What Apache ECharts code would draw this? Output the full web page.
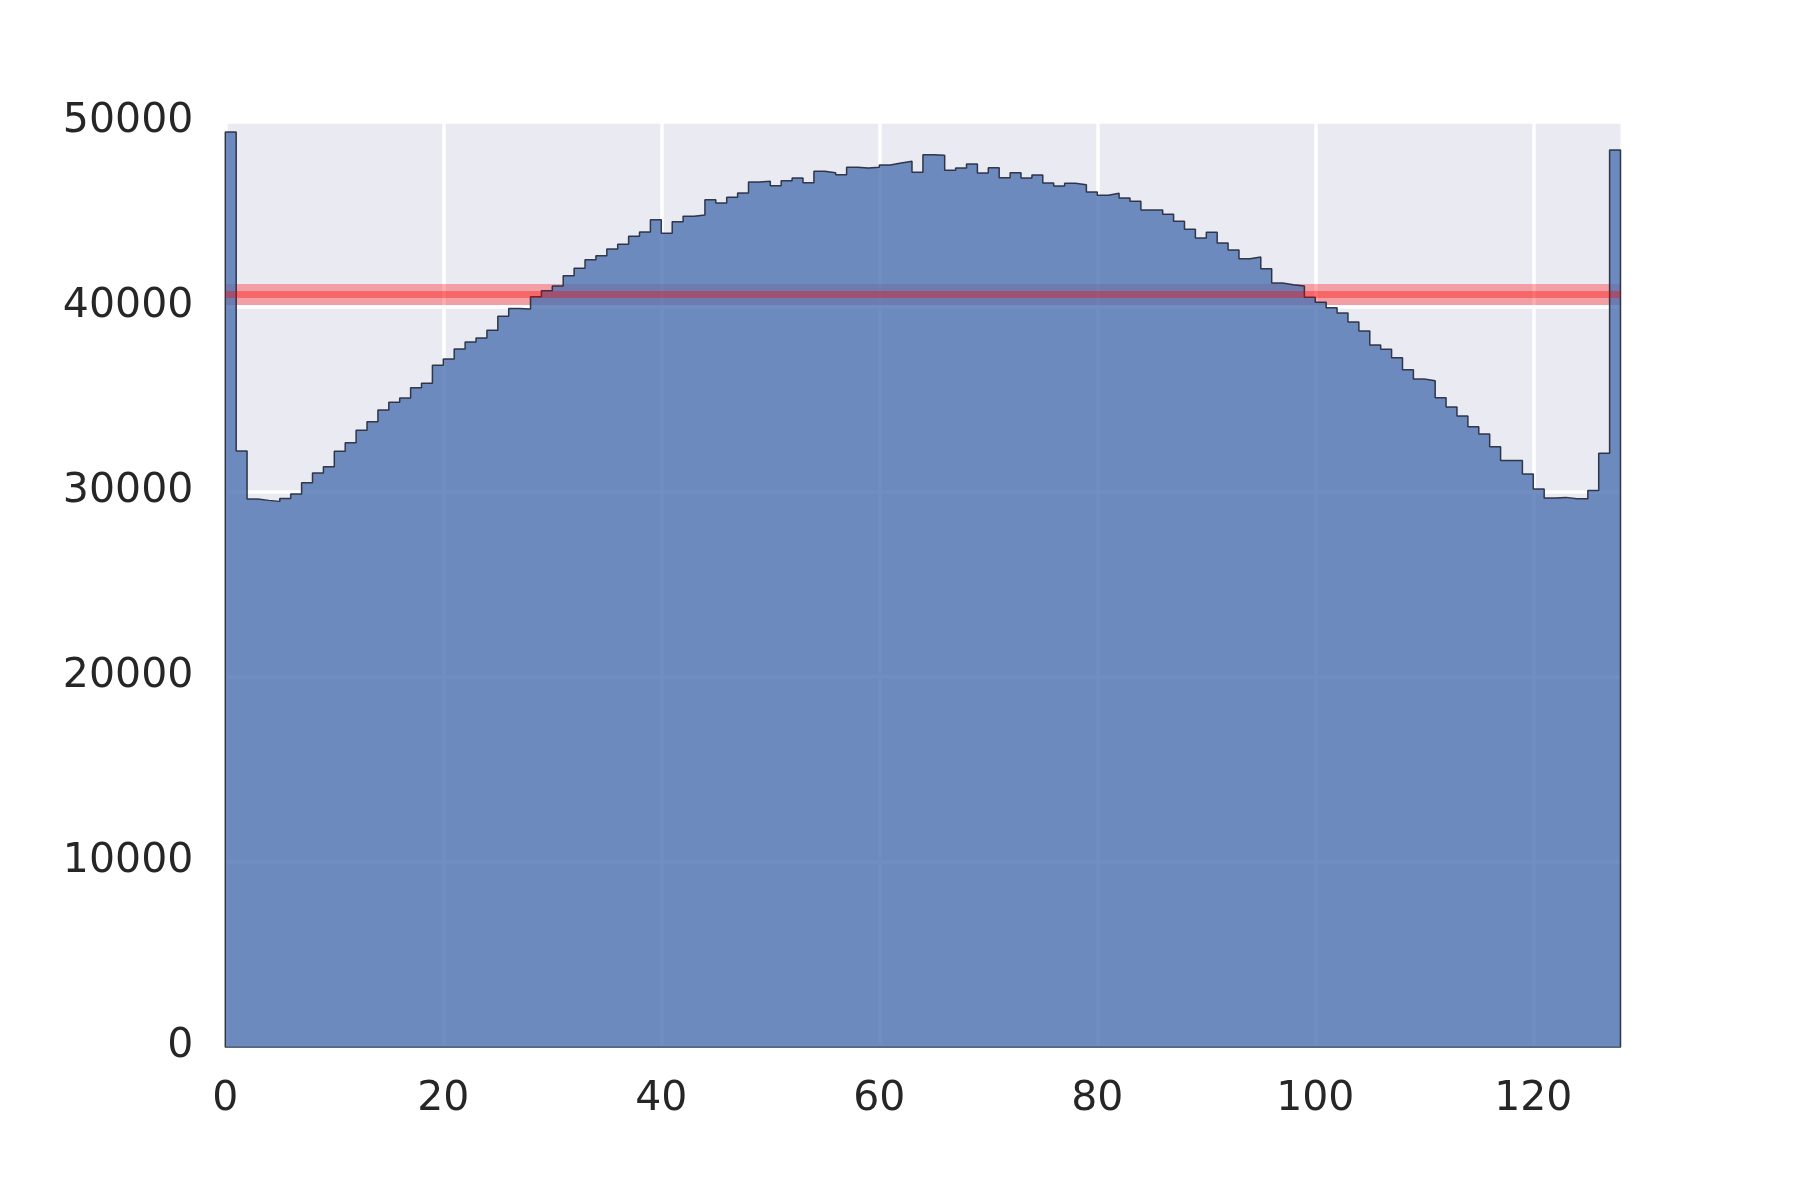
<!DOCTYPE html>
<html>
<head>
<meta charset="utf-8">
<script src="https://cdn.jsdelivr.net/npm/echarts@6/dist/echarts.min.js"></script>
<style>
html,body{margin:0;padding:0;background:#ffffff;}
#chart{width:1800px;height:1200px;}
</style>
</head>
<body>
<div id="chart"></div>
<script>
// Histogram counts, one per unit bin [i, i+1), i = 0..127
const counts = [49443, 32198, 29603, 29531, 29477, 29639, 29873, 30486, 31009, 31351,
  32180, 32648, 33315, 33784, 34415, 34829, 35063, 35622, 35856, 36829,
  37172, 37712, 38090, 38306, 38721, 39478, 39900, 39880, 40541, 40866,
  41118, 41676, 42073, 42541, 42758, 43118, 43370, 43803, 44037, 44704,
  43965, 44596, 44884, 44956, 45785, 45605, 45911, 46145, 46740, 46776,
  46542, 46812, 46956, 46704, 47317, 47245, 47136, 47533, 47497, 47533,
  47659, 47767, 47857, 47263, 48218, 48182, 47371, 47497, 47713, 47227,
  47515, 46974, 47245, 46956, 47118, 46686, 46524, 46668, 46596, 46200,
  46019, 46127, 45875, 45700, 45226, 45226, 44992, 44614, 44181, 43713,
  44019, 43442, 43064, 42595, 42686, 42055, 41280, 41190, 41118, 40505,
  40235, 39946, 39658, 39172, 38685, 37928, 37694, 37243, 36595, 36090,
  36000, 35081, 34577, 34090, 33513, 33117, 32432, 31693, 31693, 30955,
  30144, 29657, 29693, 29621, 29621, 30071, 32072, 48470];
const binStart = 0;
const binEnd = 128;
const meanValue = 40660;
const xTicks = [0, 20, 40, 60, 80, 100, 120];
const yTicks = [0, 10000, 20000, 30000, 40000, 50000];

// step outline (closed at both ends to baseline)
const stepData = [[binStart, 0]];
counts.forEach((v, i) => stepData.push([binStart + i, v]));
stepData.push([binEnd, counts[counts.length - 1]]);
stepData.push([binEnd, 0]);

const chart = echarts.init(document.getElementById('chart'), null, {renderer: 'canvas'});
const labelFont = {fontFamily: 'DejaVu Sans', fontSize: 41, color: '#262626'};
chart.setOption({
  animation: false,
  backgroundColor: '#ffffff',
  grid: {
    left: 225.3, right: 179.5, top: 121.7, bottom: 153.3,
    show: true, backgroundColor: '#EAEAF2', borderWidth: 0
  },
  xAxis: {
    type: 'value', min: binStart, max: binEnd, interval: 20,
    axisLine: {show: true, lineStyle: {color: '#2f3440', width: 1.5}},
    axisTick: {show: false},
    axisLabel: Object.assign({margin: 32, showMaxLabel: false,
      formatter: v => xTicks.includes(v) ? String(v) : ''}, labelFont),
    splitLine: {show: true, showMaxLine: false, lineStyle: {color: '#ffffff', width: 3.5}}
  },
  yAxis: {
    type: 'value', min: 0, max: 50000, interval: 10000,
    axisLine: {show: false},
    axisTick: {show: false},
    axisLabel: Object.assign({margin: 32,
      formatter: v => yTicks.includes(v) ? String(v) : ''}, labelFont),
    splitLine: {show: true, lineStyle: {color: '#ffffff', width: 3.5}}
  },
  series: [
    {
      type: 'line', z: 1, silent: true, symbol: 'none',
      data: [[binStart, meanValue], [binEnd, meanValue]],
      lineStyle: {color: 'rgba(255,0,0,0.32)', width: 21, cap: 'butt'}
    },
    {
      type: 'line', z: 2, silent: true, symbol: 'none', step: 'end',
      data: stepData,
      lineStyle: {color: 'rgba(35,40,55,0.9)', width: 1.5},
      areaStyle: {color: 'rgba(76,114,176,0.8)', opacity: 1, origin: 0}
    },
    {
      type: 'line', z: 3, silent: true, symbol: 'none',
      data: [[binStart, meanValue], [binEnd, meanValue]],
      lineStyle: {color: 'rgba(255,0,0,0.35)', width: 7, cap: 'butt'}
    }
  ]
});
</script>
</body>
</html>
